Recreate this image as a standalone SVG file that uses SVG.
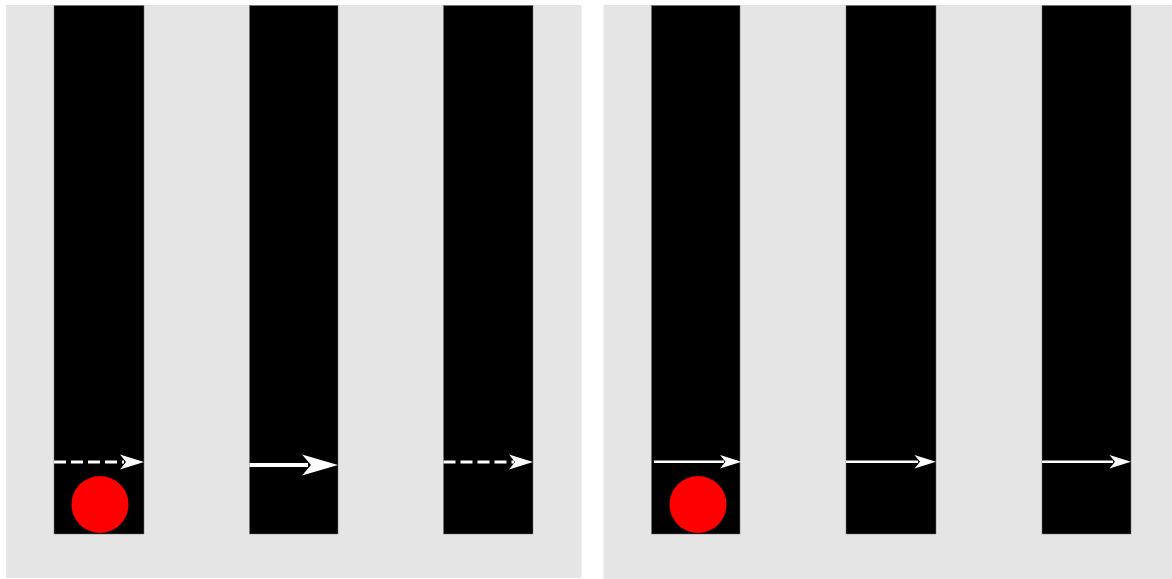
<svg xmlns="http://www.w3.org/2000/svg" width="1172" height="579" viewBox="0 0 1172 579">
<defs>
<style>
.panel{fill:#e5e5e5}
.bar{fill:#000;stroke:#777;stroke-width:0.5}
.ball{fill:#ff0000}
.arr{stroke:#fff;fill:none}
.head{fill:#fff}
</style>
</defs>
<rect width="1172" height="579" fill="#fff"/>
<g id="panel-left">
<rect class="panel" x="6" y="5" width="575.5" height="573"/>
</g>
<g id="panel-right">
<rect class="panel" x="603.5" y="5" width="568.5" height="574"/>
</g>
<g id="bar1"><rect class="bar" x="54" y="5.5" width="90" height="528.5"/></g>
<g id="bar2"><rect class="bar" x="249.5" y="5.5" width="88.5" height="528.5"/></g>
<g id="bar3"><rect class="bar" x="443.5" y="5.5" width="89.5" height="528.5"/></g>
<g id="bar4"><rect class="bar" x="651.5" y="5.5" width="88.5" height="528.5"/></g>
<g id="bar5"><rect class="bar" x="846" y="5.5" width="90" height="528.5"/></g>
<g id="bar6"><rect class="bar" x="1042" y="5.5" width="89" height="528.5"/></g>
<g id="ball1"><circle class="ball" cx="100" cy="504.5" r="28.5"/></g>
<g id="ball2"><circle class="ball" cx="698" cy="504.5" r="28.5"/></g>
<g id="connectors">
<path class="arr" d="M54 462 H124" stroke-width="3" stroke-dasharray="12 5"/>
<path class="head" d="M144 462 L120 454.5 L126 462 L120 469.5 Z"/>
<path class="arr" d="M249.5 465 H308" stroke-width="4"/>
<path class="head" d="M338 465 L302 454.5 L311 465 L302 475.5 Z"/>
<path class="arr" d="M443.5 462 H514" stroke-width="3" stroke-dasharray="12 5"/>
<path class="head" d="M533 462 L509 454.5 L515 462 L509 469.5 Z"/>
<path class="arr" d="M654 461.8 H724" stroke-width="2.5"/>
<path class="head" d="M741.5 461.8 L720 455 L725.5 461.8 L720 468.5 Z"/>
<path class="arr" d="M846 461.8 H918" stroke-width="2.5"/>
<path class="head" d="M936 461.8 L914.5 455 L920 461.8 L914.5 468.5 Z"/>
<path class="arr" d="M1042 461.8 H1113" stroke-width="2.5"/>
<path class="head" d="M1131 461.8 L1109.5 455 L1115 461.8 L1109.5 468.5 Z"/>
</g>
</svg>
